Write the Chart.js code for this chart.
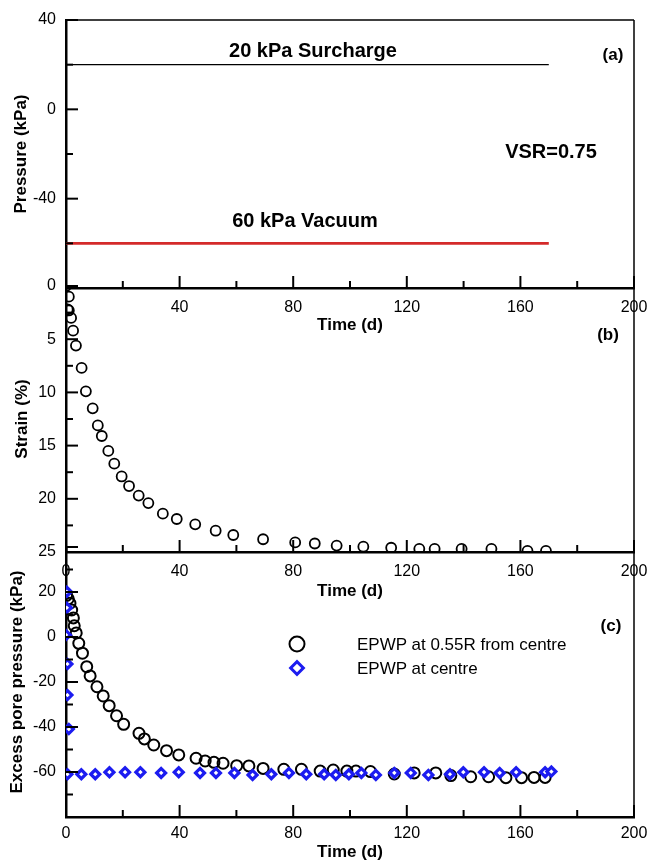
<!DOCTYPE html>
<html>
<head>
<meta charset="utf-8">
<script src="https://cdn.jsdelivr.net/npm/chart.js@4.4.1/dist/chart.umd.min.js"></script>
<style>
  html, body { margin: 0; padding: 0; background: #fff; }
  #page { position: relative; width: 648px; height: 863px; overflow: hidden; font-family: 'Liberation Sans', Arial, sans-serif; color: #000; }
  .panel { position: absolute; left: 0; width: 648px; }
  .note { position: absolute; transform: translate(-50%, -50%); line-height: 1; white-space: nowrap; z-index: 5; }
  .b { font-weight: bold; }
  .big { font-size: 20px; }
  .tag { font-size: 17px; }
  .leg { position: absolute; transform: translate(0, -50%); line-height: 1; font-size: 17px; white-space: nowrap; z-index: 5; }
  .mk_circle { position: absolute; width: 13px; height: 13px; border: 2px solid #000; border-radius: 50%; transform: translate(-50%, -50%); z-index: 5; }
  .mk_diamond { position: absolute; width: 6px; height: 6px; border: 3.5px solid #1c1cf0; background: #fff; transform: translate(-50%, -50%) rotate(45deg); z-index: 5; }
</style>
</head>
<body>
<div id="page">
  <div class="panel" style="top:0;height:345px"><canvas id="chart_a"></canvas></div>
  <div class="panel" style="top:270px;height:338px"><canvas id="chart_b"></canvas></div>
  <div class="panel" style="top:532px;height:331px"><canvas id="chart_c"></canvas></div>

  <div class="note b big" style="left:313px;top:50px">20 kPa Surcharge</div>
  <div class="note b big" style="left:305px;top:220px">60 kPa Vacuum</div>
  <div class="note b big" style="left:551px;top:151px">VSR=0.75</div>
  <div class="note b tag" style="left:613px;top:54px">(a)</div>
  <div class="note b tag" style="left:608px;top:334px">(b)</div>
  <div class="note b tag" style="left:611px;top:625px">(c)</div>

  <div class="mk_circle" style="left:297px;top:644px"></div>
  <div class="leg" style="left:357px;top:644px">EPWP at 0.55R from centre</div>
  <div class="mk_diamond" style="left:297px;top:668px"></div>
  <div class="leg" style="left:357px;top:668px">EPWP at centre</div>
</div>
<script>
// (a) 載荷条件
var loadTime = [0, 170]
var surchargeKPa = [20, 20]
var vacuumKPa = [-60, -60]

// (b) ひずみ
var strainTime = [0, 1.0, 0.6, 1.0, 1.8, 2.5, 3.5, 5.5, 7.0, 9.4, 11.2, 12.6, 14.9, 17.0, 19.6, 22.2, 25.6, 29.0, 34.1, 39.0, 45.5, 52.7, 58.9, 69.4, 80.7, 87.6, 95.3, 104.7, 114.5, 124.4, 129.8, 139.3, 149.8, 162.5, 169.0]
var strainPct = [0, 1.0, 2.2, 2.3, 3.0, 4.2, 5.6, 7.7, 9.9, 11.5, 13.1, 14.1, 15.5, 16.7, 17.9, 18.8, 19.7, 20.4, 21.4, 21.9, 22.4, 23.0, 23.4, 23.8, 24.1, 24.2, 24.4, 24.5, 24.6, 24.7, 24.7, 24.7, 24.7, 24.9, 24.9]

// (c) 過剰間隙水圧
var epwp55Time = [0.2, 0.8, 1.4, 2.0, 2.6, 2.9, 3.6, 4.5, 5.8, 7.3, 8.5, 10.9, 13.1, 15.2, 17.8, 20.3, 25.7, 27.6, 30.9, 35.4, 39.7, 45.8, 49.0, 52.1, 55.3, 60.1, 64.4, 69.4, 76.7, 82.9, 89.5, 94.1, 98.9, 102.1, 107.2, 115.6, 122.6, 130.2, 135.5, 142.5, 148.8, 154.9, 160.4, 164.8, 168.7]
var epwp55KPa = [18.5, 17.0, 15.0, 12.0, 8.5, 5.0, 1.8, -2.8, -7.2, -13.2, -17.3, -22.1, -26.2, -30.5, -35.0, -38.8, -42.8, -45.3, -48.0, -50.5, -52.4, -53.9, -55.1, -55.7, -56.1, -57.2, -57.3, -58.4, -58.8, -58.8, -59.6, -59.1, -59.6, -59.6, -59.8, -60.9, -60.4, -60.4, -61.6, -62.1, -62.1, -62.5, -62.5, -62.4, -62.4]
var epwpCentreTime = [0.3, 0.3, 0, 0.5, 0.5, 1.0, 0.5, 5.4, 10.3, 15.3, 20.8, 26.2, 33.5, 39.7, 47.2, 52.8, 59.3, 65.7, 72.3, 78.5, 84.6, 90.9, 95.0, 99.6, 104.0, 109.1, 115.6, 121.4, 127.6, 135.2, 139.9, 147.2, 152.7, 158.5, 168.7, 170.9]
var epwpCentreKPa = [20.1, 13.0, 0.9, -12.0, -25.8, -40.9, -61.0, -61.0, -61.0, -60.1, -60.1, -60.1, -60.4, -60.1, -60.4, -60.4, -60.4, -61.3, -61.0, -60.4, -61.0, -61.0, -61.3, -61.0, -60.4, -61.3, -60.4, -60.4, -61.3, -61.0, -60.1, -60.1, -60.4, -60.1, -60.1, -59.8]

Chart.defaults.font.family = "'Liberation Sans', Arial, sans-serif"
Chart.defaults.color = '#000'

function xy(xs, ys) {
    return xs.map((x, i) => ({ x: x, y: ys[i] }))
}

// 内向きの目盛りと枠線
var innerTicks = {
    id: 'innerTicks',
    afterDraw(chart, args, opts) {
        const ctx = chart.ctx
        const area = chart.chartArea
        const xs = chart.scales.x
        const ys = chart.scales.y
        ctx.save()
        ctx.strokeStyle = '#000'
        ctx.lineWidth = 2
        xs.ticks.forEach((t) => {
            const px = xs.getPixelForValue(t.value)
            const len = t.value % 40 === 0 ? 12 : 7
            ctx.beginPath()
            ctx.moveTo(px, area.bottom)
            ctx.lineTo(px, area.bottom - len)
            ctx.stroke()
        })
        ys.ticks.forEach((t) => {
            const py = ys.getPixelForValue(t.value)
            const len = t.value % opts.yMajor === 0 ? 12 : 7
            ctx.beginPath()
            ctx.moveTo(area.left, py)
            ctx.lineTo(area.left + len, py)
            ctx.stroke()
        })
        ctx.lineWidth = 1.5
        ctx.beginPath()
        ctx.moveTo(area.right, area.top)
        ctx.lineTo(area.right, area.bottom)
        ctx.stroke()
        if (opts.top) {
            ctx.beginPath()
            ctx.moveTo(area.left, area.top)
            ctx.lineTo(area.right, area.top)
            ctx.stroke()
        }
        ctx.restore()
    }
}

function x_scale(height, showZero, labelPad, titlePad) {
    return {
        type: 'linear',
        min: 0,
        max: 200,
        grid: { display: false, drawTicks: false },
        border: { display: true, color: '#000', width: 2.5 },
        ticks: {
            stepSize: 20,
            autoSkip: false,
            maxRotation: 0,
            padding: labelPad,
            font: { size: 16 },
            callback: function (value) {
                if (value % 40 !== 0) return ''
                if (value === 0 && !showZero) return ''
                return value
            }
        },
        title: {
            display: true,
            text: 'Time (d)',
            font: { size: 17, weight: 'bold' },
            padding: { top: 0, bottom: titlePad }
        },
        afterFit: function (scale) {
            scale.height = height
            scale.paddingLeft = 0
            scale.paddingRight = 0
        }
    }
}

function y_scale(min, max, step, labels, title, titlePad, reverse) {
    return {
        type: 'linear',
        min: min,
        max: max,
        reverse: !!reverse,
        grid: { display: false, drawTicks: false },
        border: { display: true, color: '#000', width: 2.5 },
        ticks: {
            stepSize: step,
            autoSkip: false,
            padding: 10,
            font: { size: 16 },
            callback: function (value) {
                return labels.indexOf(value) >= 0 ? value : ''
            }
        },
        title: {
            display: true,
            text: title,
            font: { size: 17, weight: 'bold' },
            padding: { top: titlePad, bottom: 0 }
        },
        afterFit: function (scale) {
            scale.width = 66
            scale.paddingTop = 0
            scale.paddingBottom = 0
        }
    }
}

function base_options(padTop, scales, yMajor, top) {
    return {
        responsive: true,
        maintainAspectRatio: false,
        animation: false,
        layout: { padding: { top: padTop, right: 14, left: 0, bottom: 0 } },
        scales: scales,
        plugins: {
            legend: { display: false },
            tooltip: { enabled: false },
            innerTicks: { yMajor: yMajor, top: top }
        }
    }
}

new Chart(document.getElementById('chart_a'), {
    type: 'scatter',
    data: {
        datasets: [
            {
                label: '20 kPa Surcharge',
                data: xy(loadTime, surchargeKPa),
                showLine: true,
                borderColor: '#000',
                borderWidth: 1.3,
                pointRadius: 0
            },
            {
                label: '60 kPa Vacuum',
                data: xy(loadTime, vacuumKPa),
                showLine: true,
                borderColor: '#d42a2a',
                borderWidth: 2.8,
                pointRadius: 0
            }
        ]
    },
    options: base_options(20, {
        x: x_scale(57, false, 10, 9),
        y: y_scale(-80, 40, 20, [40, 0, -40], 'Pressure (kPa)', 11)
    }, 40, true),
    plugins: [innerTicks]
})

new Chart(document.getElementById('chart_b'), {
    type: 'scatter',
    data: {
        datasets: [
            {
                label: 'Strain',
                data: xy(strainTime, strainPct),
                borderColor: '#000',
                backgroundColor: 'rgba(0,0,0,0)',
                borderWidth: 1.8,
                pointRadius: 5
            }
        ]
    },
    options: base_options(16, {
        x: x_scale(56, true, 10, 6),
        y: y_scale(0, 25, 2.5, [0, 5, 10, 15, 20, 25], 'Strain (%)', 12, true)
    }, 5, false),
    plugins: [innerTicks]
})

new Chart(document.getElementById('chart_c'), {
    type: 'scatter',
    data: {
        datasets: [
            {
                label: 'EPWP at 0.55R from centre',
                data: xy(epwp55Time, epwp55KPa),
                borderColor: '#000',
                backgroundColor: 'rgba(0,0,0,0)',
                borderWidth: 2,
                pointRadius: 5.5,
                order: 2
            },
            {
                label: 'EPWP at centre',
                data: xy(epwpCentreTime, epwpCentreKPa),
                pointStyle: 'rectRot',
                borderColor: '#1c1cf0',
                backgroundColor: '#ffffff',
                borderWidth: 3.2,
                pointRadius: 4.5,
                order: 1
            }
        ]
    },
    options: base_options(15, {
        x: x_scale(46, true, 7, 0),
        y: y_scale(-80, 40, 10, [20, 0, -20, -40, -60], 'Excess pore pressure (kPa)', 7)
    }, 20, false),
    plugins: [innerTicks]
})
</script>
</body>
</html>
